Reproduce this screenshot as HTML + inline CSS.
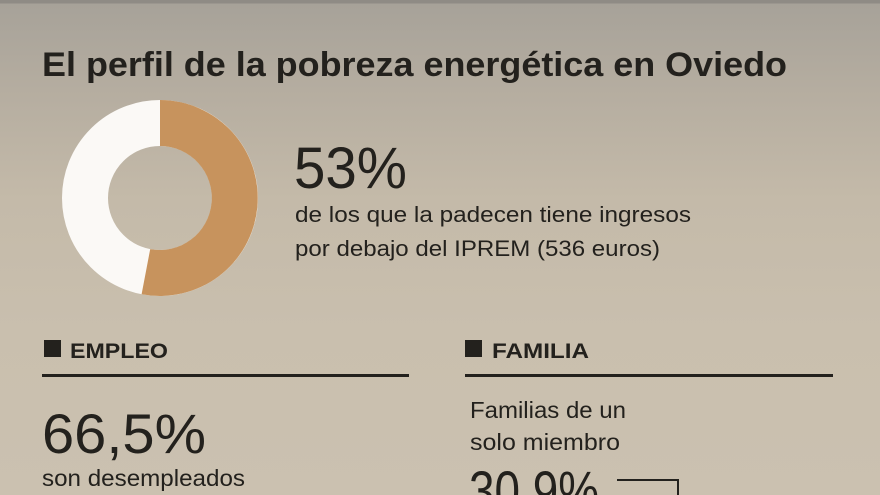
<!DOCTYPE html>
<html><head><meta charset="utf-8"><style>
html,body{margin:0;padding:0;width:880px;height:495px;overflow:hidden}
body{background:linear-gradient(180deg,#8f8b85 0px,#8f8b85 3px,#a7a299 4px,#b5ada0 90px,#c4baa9 200px,#c9bfae 330px,#cbc1b0 495px)}
svg{position:absolute;left:0;top:0;overflow:hidden}
</style></head><body>
<svg width="880" height="495" viewBox="0 0 880 495" font-family="Liberation Sans, sans-serif" fill="#23211d">
<text x="42" y="76" font-size="34" font-weight="bold" textLength="745" lengthAdjust="spacingAndGlyphs">El perfil de la pobreza energética en Oviedo</text>
<circle cx="160" cy="198" r="75" fill="none" stroke="#fbf9f6" stroke-width="46"/>
<path d="M160 100 A98 98 0 1 1 141.6 294.3 L150.2 249.1 A52 52 0 1 0 160 146 Z" fill="#c7935d"/>
<text x="294" y="188" font-size="58" textLength="113" lengthAdjust="spacingAndGlyphs">53%</text>
<text x="295" y="222" font-size="22" textLength="396" lengthAdjust="spacingAndGlyphs">de los que la padecen tiene ingresos</text>
<text x="295" y="256" font-size="22" textLength="365" lengthAdjust="spacingAndGlyphs">por debajo del IPREM (536 euros)</text>
<rect x="44" y="340" width="17" height="17"/>
<text x="70" y="358" font-size="21" font-weight="bold" textLength="98" lengthAdjust="spacingAndGlyphs">EMPLEO</text>
<rect x="42" y="374" width="367" height="3"/>
<rect x="465" y="340" width="17" height="17"/>
<text x="492" y="358" font-size="21" font-weight="bold" textLength="97" lengthAdjust="spacingAndGlyphs">FAMILIA</text>
<rect x="465" y="374" width="368" height="3"/>
<text x="42" y="453" font-size="56" textLength="164" lengthAdjust="spacingAndGlyphs">66,5%</text>
<text x="42" y="486" font-size="23" textLength="203" lengthAdjust="spacingAndGlyphs">son desempleados</text>
<text x="470" y="418" font-size="23" textLength="156" lengthAdjust="spacingAndGlyphs">Familias de un</text>
<text x="470" y="450" font-size="23" textLength="150" lengthAdjust="spacingAndGlyphs">solo miembro</text>
<text x="469" y="510" font-size="56" textLength="130" lengthAdjust="spacingAndGlyphs">30,9%</text>
<path d="M617 480 H678 V495" fill="none" stroke="#23211d" stroke-width="2"/>
</svg>
</body></html>
